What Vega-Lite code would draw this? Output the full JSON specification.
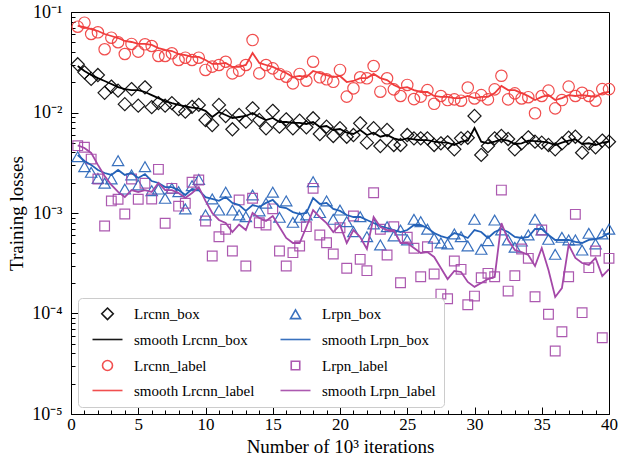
{
  "$schema": "https://vega.github.io/schema/vega-lite/v6.json",
  "width": 538,
  "height": 402,
  "autosize": {"type": "none"},
  "padding": {"left": 71, "top": 12, "right": 10, "bottom": 49},
  "background": "white",
  "config": {
    "view": {"stroke": "black", "strokeWidth": 1},
    "font": "Liberation Serif",
    "axis": {"grid": false, "domainColor": "black", "tickColor": "black", "labelColor": "black", "titleColor": "black", "labelFont": "Liberation Serif", "titleFont": "Liberation Serif", "titleFontWeight": "normal", "labelOverlap": false, "labelFlush": false, "labelBound": false}
  },
  "data": {"values": [
    {"x":0.5,"rb":0.0302,"srb":0.0290,"rl":0.0714,"srl":0.0726,"pb":0.00363,"spb":0.00378,"pl":0.00468,"spl":0.00470},
    {"x":1.0,"rb":0.0251,"srb":0.0259,"rl":0.0783,"srl":0.0709,"pb":0.00289,"spb":0.00329,"pl":0.00451,"spl":0.00444},
    {"x":1.5,"rb":0.0216,"srb":0.0236,"rl":0.0604,"srl":0.0677,"pb":0.00254,"spb":0.00301,"pl":0.00344,"spl":0.00396},
    {"x":2.0,"rb":0.0236,"srb":0.0220,"rl":0.0628,"srl":0.0647,"pb":0.00221,"spb":0.00268,"pl":0.00218,"spl":0.00301},
    {"x":2.5,"rb":0.0157,"srb":0.0206,"rl":0.0426,"srl":0.0604,"pb":0.00198,"spb":0.00250,"pl":0.000742,"spl":0.00233},
    {"x":3.0,"rb":0.0181,"srb":0.0192,"rl":0.0555,"srl":0.0577,"pb":0.00218,"spb":0.00239,"pl":0.00132,"spl":0.00190},
    {"x":3.5,"rb":0.0165,"srb":0.0179,"rl":0.0500,"srl":0.0551,"pb":0.00331,"spb":0.00268,"pl":0.00137,"spl":0.00162},
    {"x":4.0,"rb":0.0121,"srb":0.0171,"rl":0.0382,"srl":0.0515,"pb":0.00173,"spb":0.00239,"pl":0.000977,"spl":0.00144},
    {"x":4.5,"rb":0.0171,"srb":0.0167,"rl":0.0481,"srl":0.0503,"pb":0.00239,"spb":0.00250,"pl":0.00218,"spl":0.00169},
    {"x":5.0,"rb":0.0117,"srb":0.0167,"rl":0.0403,"srl":0.0481,"pb":0.00190,"spb":0.00223,"pl":0.00137,"spl":0.00162},
    {"x":5.5,"rb":0.0178,"srb":0.0160,"rl":0.0477,"srl":0.0481,"pb":0.00289,"spb":0.00244,"pl":0.00198,"spl":0.00169},
    {"x":6.0,"rb":0.0113,"srb":0.0149,"rl":0.0459,"srl":0.0470,"pb":0.00167,"spb":0.00208,"pl":0.00138,"spl":0.00162},
    {"x":6.5,"rb":0.0124,"srb":0.0139,"rl":0.0365,"srl":0.0438,"pb":0.00173,"spb":0.00199,"pl":0.00272,"spl":0.00199},
    {"x":7.0,"rb":0.0117,"srb":0.0130,"rl":0.0365,"srl":0.0419,"pb":0.00140,"spb":0.00181,"pl":0.000790,"spl":0.00169},
    {"x":7.5,"rb":0.0124,"srb":0.0124,"rl":0.0388,"srl":0.0409,"pb":0.00176,"spb":0.00181,"pl":0.00176,"spl":0.00169},
    {"x":8.0,"rb":0.0108,"srb":0.0119,"rl":0.0333,"srl":0.0382,"pb":0.00163,"spb":0.00169,"pl":0.00117,"spl":0.00158},
    {"x":8.5,"rb":0.0102,"srb":0.0115,"rl":0.0351,"srl":0.0373,"pb":0.00110,"spb":0.00151,"pl":0.00125,"spl":0.00141},
    {"x":9.0,"rb":0.0114,"srb":0.0112,"rl":0.0333,"srl":0.0357,"pb":0.00187,"spb":0.00173,"pl":0.00202,"spl":0.00158},
    {"x":9.5,"rb":0.0119,"srb":0.0110,"rl":0.0351,"srl":0.0357,"pb":0.00216,"spb":0.00169,"pl":0.00213,"spl":0.00181},
    {"x":10.0,"rb":0.00842,"srb":0.0104,"rl":0.0265,"srl":0.0333,"pb":0.000955,"spb":0.00144,"pl":0.000832,"spl":0.00132},
    {"x":10.5,"rb":0.00751,"srb":0.00902,"rl":0.0286,"srl":0.0304,"pb":0.00138,"spb":0.00138,"pl":0.000373,"spl":0.00100},
    {"x":11.0,"rb":0.0119,"srb":0.0101,"rl":0.0297,"srl":0.0304,"pb":0.00107,"spb":0.00132,"pl":0.000581,"spl":0.000852},
    {"x":11.5,"rb":0.00923,"srb":0.00945,"rl":0.0320,"srl":0.0311,"pb":0.00161,"spb":0.00144,"pl":0.000689,"spl":0.000795},
    {"x":12.0,"rb":0.00681,"srb":0.00882,"rl":0.0245,"srl":0.0284,"pb":0.00107,"spb":0.00126,"pl":0.000419,"spl":0.000647},
    {"x":12.5,"rb":0.00945,"srb":0.00902,"rl":0.0261,"srl":0.0284,"pb":0.000955,"spb":0.00120,"pl":0.00135,"spl":0.000769},
    {"x":13.0,"rb":0.00810,"srb":0.00923,"rl":0.0297,"srl":0.0297,"pb":0.000918,"spb":0.00105,"pl":0.000297,"spl":0.000677},
    {"x":13.5,"rb":0.0110,"srb":0.00989,"rl":0.0526,"srl":0.0391,"pb":0.00151,"spb":0.00120,"pl":0.00140,"spl":0.00100},
    {"x":14.0,"rb":0.00842,"srb":0.00902,"rl":0.0245,"srl":0.0311,"pb":0.00105,"spb":0.00115,"pl":0.000800,"spl":0.000892},
    {"x":14.5,"rb":0.00697,"srb":0.00842,"rl":0.0297,"srl":0.0297,"pb":0.00125,"spb":0.00126,"pl":0.000760,"spl":0.000832},
    {"x":15.0,"rb":0.0104,"srb":0.00882,"rl":0.0275,"srl":0.0284,"pb":0.00161,"spb":0.00135,"pl":0.00110,"spl":0.000933},
    {"x":15.5,"rb":0.00722,"srb":0.00804,"rl":0.0242,"srl":0.0265,"pb":0.000906,"spb":0.00115,"pl":0.000419,"spl":0.000726},
    {"x":16.0,"rb":0.00856,"srb":0.00804,"rl":0.0227,"srl":0.0247,"pb":0.00132,"spb":0.00112,"pl":0.000297,"spl":0.000564},
    {"x":16.5,"rb":0.00697,"srb":0.00787,"rl":0.0195,"srl":0.0225,"pb":0.000808,"spb":0.00102,"pl":0.000403,"spl":0.000503},
    {"x":17.0,"rb":0.00828,"srb":0.00787,"rl":0.0242,"srl":0.0231,"pb":0.000906,"spb":0.000977,"pl":0.000470,"spl":0.000503},
    {"x":17.5,"rb":0.00713,"srb":0.00769,"rl":0.0207,"srl":0.0225,"pb":0.000955,"spb":0.00100,"pl":0.000731,"spl":0.000726},
    {"x":18.0,"rb":0.00876,"srb":0.00804,"rl":0.0320,"srl":0.0259,"pb":0.00205,"spb":0.00141,"pl":0.00176,"spl":0.00107},
    {"x":18.5,"rb":0.00611,"srb":0.00718,"rl":0.0224,"srl":0.0247,"pb":0.00101,"spb":0.00123,"pl":0.000604,"spl":0.000912},
    {"x":19.0,"rb":0.00722,"srb":0.00734,"rl":0.0214,"srl":0.0236,"pb":0.00132,"spb":0.00126,"pl":0.000506,"spl":0.000795},
    {"x":19.5,"rb":0.00584,"srb":0.00670,"rl":0.0202,"srl":0.0225,"pb":0.000865,"spb":0.00110,"pl":0.000391,"spl":0.000647},
    {"x":20.0,"rb":0.00697,"srb":0.00685,"rl":0.0265,"srl":0.0231,"pb":0.00107,"spb":0.00105,"pl":0.000714,"spl":0.000760},
    {"x":20.5,"rb":0.00574,"srb":0.00630,"rl":0.0144,"srl":0.0201,"pb":0.000819,"spb":0.000955,"pl":0.000282,"spl":0.000503},
    {"x":21.0,"rb":0.00597,"srb":0.00611,"rl":0.0174,"srl":0.0206,"pb":0.000652,"spb":0.000912,"pl":0.000933,"spl":0.000677},
    {"x":21.5,"rb":0.00781,"srb":0.00670,"rl":0.0224,"srl":0.0220,"pb":0.000918,"spb":0.000912,"pl":0.000346,"spl":0.000577},
    {"x":22.0,"rb":0.00501,"srb":0.00597,"rl":0.0219,"srl":0.0220,"pb":0.000581,"spb":0.000851,"pl":0.000267,"spl":0.000438},
    {"x":22.5,"rb":0.00697,"srb":0.00630,"rl":0.0290,"srl":0.0242,"pb":0.000778,"spb":0.000795,"pl":0.00159,"spl":0.000912},
    {"x":23.0,"rb":0.00464,"srb":0.00574,"rl":0.0161,"srl":0.0220,"pb":0.000481,"spb":0.000742,"pl":0.000689,"spl":0.000726},
    {"x":23.5,"rb":0.00670,"srb":0.00597,"rl":0.0219,"srl":0.0210,"pb":0.000731,"spb":0.000709,"pl":0.000382,"spl":0.000677},
    {"x":24.0,"rb":0.00475,"srb":0.00553,"rl":0.0170,"srl":0.0188,"pb":0.000590,"spb":0.000677,"pl":0.000731,"spl":0.000677},
    {"x":24.5,"rb":0.00475,"srb":0.00532,"rl":0.0146,"srl":0.0175,"pb":0.000677,"spb":0.000647,"pl":0.000202,"spl":0.000503},
    {"x":25.0,"rb":0.00597,"srb":0.00553,"rl":0.0188,"srl":0.0179,"pb":0.000539,"spb":0.000677,"pl":0.000573,"spl":0.000503},
    {"x":25.5,"rb":0.00553,"srb":0.00541,"rl":0.0136,"srl":0.0167,"pb":0.000865,"spb":0.000760,"pl":0.000446,"spl":0.000449},
    {"x":26.0,"rb":0.00553,"srb":0.00532,"rl":0.0144,"srl":0.0160,"pb":0.000819,"spb":0.000760,"pl":0.000232,"spl":0.000400},
    {"x":26.5,"rb":0.00553,"srb":0.00532,"rl":0.0167,"srl":0.0160,"pb":0.000689,"spb":0.000709,"pl":0.000462,"spl":0.000409},
    {"x":27.0,"rb":0.00475,"srb":0.00512,"rl":0.0122,"srl":0.0146,"pb":0.000560,"spb":0.000632,"pl":0.000247,"spl":0.000365},
    {"x":27.5,"rb":0.00494,"srb":0.00505,"rl":0.0146,"srl":0.0143,"pb":0.000503,"spb":0.000590,"pl":0.000156,"spl":0.000284},
    {"x":28.0,"rb":0.00505,"srb":0.00501,"rl":0.0133,"srl":0.0143,"pb":0.000492,"spb":0.000564,"pl":0.000140,"spl":0.000220},
    {"x":28.5,"rb":0.00430,"srb":0.00475,"rl":0.0135,"srl":0.0139,"pb":0.000618,"spb":0.000632,"pl":0.000333,"spl":0.000265},
    {"x":29.0,"rb":0.00553,"srb":0.00512,"rl":0.0131,"srl":0.0139,"pb":0.000581,"spb":0.000604,"pl":0.000275,"spl":0.000259},
    {"x":29.5,"rb":0.00561,"srb":0.00524,"rl":0.0177,"srl":0.0146,"pb":0.000470,"spb":0.000564,"pl":0.000122,"spl":0.000206},
    {"x":30.0,"rb":0.00923,"srb":0.00701,"rl":0.0138,"srl":0.0139,"pb":0.000865,"spb":0.000677,"pl":0.000149,"spl":0.000184},
    {"x":30.5,"rb":0.00378,"srb":0.00512,"rl":0.0149,"srl":0.0143,"pb":0.000435,"spb":0.000647,"pl":0.000227,"spl":0.000201},
    {"x":31.0,"rb":0.00464,"srb":0.00494,"rl":0.0135,"srl":0.0143,"pb":0.000530,"spb":0.000564,"pl":0.000251,"spl":0.000220},
    {"x":31.5,"rb":0.00553,"srb":0.00512,"rl":0.0170,"srl":0.0156,"pb":0.000851,"spb":0.000647,"pl":0.000232,"spl":0.000231},
    {"x":32.0,"rb":0.00584,"srb":0.00541,"rl":0.0232,"srl":0.0184,"pb":0.000677,"spb":0.000693,"pl":0.00169,"spl":0.000795},
    {"x":32.5,"rb":0.00545,"srb":0.00524,"rl":0.0135,"srl":0.0167,"pb":0.000539,"spb":0.000647,"pl":0.000167,"spl":0.000539},
    {"x":33.0,"rb":0.00430,"srb":0.00486,"rl":0.0155,"srl":0.0167,"pb":0.000456,"spb":0.000577,"pl":0.000238,"spl":0.000428},
    {"x":33.5,"rb":0.00494,"srb":0.00494,"rl":0.0138,"srl":0.0156,"pb":0.000526,"spb":0.000564,"pl":0.000438,"spl":0.000409},
    {"x":34.0,"rb":0.00566,"srb":0.00524,"rl":0.0142,"srl":0.0146,"pb":0.000604,"spb":0.000577,"pl":0.000354,"spl":0.000382},
    {"x":34.5,"rb":0.00512,"srb":0.00520,"rl":0.00982,"srl":0.0133,"pb":0.000865,"spb":0.000693,"pl":0.000147,"spl":0.000297},
    {"x":35.0,"rb":0.00501,"srb":0.00512,"rl":0.0146,"srl":0.0143,"pb":0.000677,"spb":0.000693,"pl":0.000677,"spl":0.000449},
    {"x":35.5,"rb":0.00475,"srb":0.00501,"rl":0.0165,"srl":0.0149,"pb":0.000547,"spb":0.000604,"pl":0.0000982,"spl":0.000271},
    {"x":36.0,"rb":0.00430,"srb":0.00475,"rl":0.0110,"srl":0.0133,"pb":0.000388,"spb":0.000539,"pl":0.0000424,"spl":0.000146},
    {"x":36.5,"rb":0.00492,"srb":0.00501,"rl":0.0133,"srl":0.0139,"pb":0.000573,"spb":0.000539,"pl":0.0000659,"spl":0.000179},
    {"x":37.0,"rb":0.00561,"srb":0.00524,"rl":0.0181,"srl":0.0149,"pb":0.000539,"spb":0.000539,"pl":0.000232,"spl":0.000481},
    {"x":37.5,"rb":0.00574,"srb":0.00541,"rl":0.0146,"srl":0.0146,"pb":0.000539,"spb":0.000515,"pl":0.000970,"spl":0.000357},
    {"x":38.0,"rb":0.00398,"srb":0.00486,"rl":0.0157,"srl":0.0149,"pb":0.000428,"spb":0.000503,"pl":0.000102,"spl":0.000318},
    {"x":38.5,"rb":0.00492,"srb":0.00494,"rl":0.0146,"srl":0.0146,"pb":0.000628,"spb":0.000539,"pl":0.000286,"spl":0.000304},
    {"x":39.0,"rb":0.00451,"srb":0.00475,"rl":0.0131,"srl":0.0143,"pb":0.000492,"spb":0.000551,"pl":0.000419,"spl":0.000357},
    {"x":39.5,"rb":0.00526,"srb":0.00501,"rl":0.0171,"srl":0.0156,"pb":0.000618,"spb":0.000577,"pl":0.0000574,"spl":0.000236},
    {"x":40.0,"rb":0.00512,"srb":0.00512,"rl":0.0171,"srl":0.0160,"pb":0.000689,"spb":0.000632,"pl":0.000354,"spl":0.000277}
  ]},
  "transform": [
    {"fold": ["rb", "srb", "rl", "srl", "pb", "spb", "pl", "spl"], "as": ["s", "v"]}
  ],
  "encoding": {
    "x": {
      "field": "x", "type": "quantitative",
      "scale": {"domain": [0, 40], "nice": false, "zero": false},
      "axis": {
        "title": "Number of 10³ iterations",
        "titleFontSize": 19, "titlePadding": 2,
        "labelFontSize": 17,
        "values": [0,1,2,3,4,5,6,7,8,9,10,11,12,13,14,15,16,17,18,19,20,21,22,23,24,25,26,27,28,29,30,31,32,33,34,35,36,37,38,39,40],
        "labelExpr": "datum.value % 5 == 0 ? datum.label : ''",
        "tickSize": {"condition": {"test": "datum.value % 5 == 0", "value": -7}, "value": -4},
        "labelPadding": 9
      }
    },
    "y": {
      "field": "v", "type": "quantitative",
      "scale": {"type": "log", "domain": [0.00001, 0.1], "nice": false},
      "axis": {
        "title": "Training losses",
        "titleFontSize": 19, "titlePadding": 5,
        "labelFontSize": 18,
        "values": [0.00001,0.00002,0.00003,0.00004,0.00005,0.00006,0.00007,0.00008,0.00009,0.0001,0.0002,0.0003,0.0004,0.0005,0.0006,0.0007,0.0008,0.0009,0.001,0.002,0.003,0.004,0.005,0.006,0.007,0.008,0.009,0.01,0.02,0.03,0.04,0.05,0.06,0.07,0.08,0.09,0.1],
        "labelExpr": "abs(log(datum.value)/LN10 - round(log(datum.value)/LN10)) < 0.001 ? '10' + ['⁻⁵','⁻⁴','⁻³','⁻²','⁻¹'][round(log(datum.value)/LN10)+5] : ''",
        "tickSize": {"condition": {"test": "abs(log(datum.value)/LN10 - round(log(datum.value)/LN10)) < 0.001", "value": -7}, "value": -4},
        "labelPadding": 16
      }
    },
    "color": {"field": "s", "type": "nominal",
      "scale": {"domain": ["rb", "srb", "rl", "srl", "pb", "spb", "pl", "spl"], "range": ["#000000", "#000000", "#f03c3c", "#f03c3c", "#2462b8", "#2462b8", "#a448a8", "#a448a8"]},
      "legend": {"title": null, "orient": "bottom-left", "offset": 7, "columns": 2, "fillColor": "white", "strokeColor": "#cccccc", "cornerRadius": 4, "padding": 8, "labelFont": "Liberation Serif", "labelFontSize": 15, "labelColor": "black", "rowPadding": 9, "columnPadding": 19, "symbolOffset": 14, "labelOffset": 19, "symbolStrokeWidth": 1.6,
        "labelExpr": "{'rb':'Lrcnn_box','srb':'smooth Lrcnn_box','rl':'Lrcnn_label','srl':'smooth Lrcnn_label','pb':'Lrpn_box','spb':'smooth Lrpn_box','pl':'Lrpn_label','spl':'smooth Lrpn_label'}[datum.label]"}}
  },
  "layer": [
    {
      "transform": [{"filter": "indexof(['rb','pb','rl','pl'], datum.s) >= 0"}],
      "mark": {"type": "point", "filled": false, "opacity": 0.9, "size": 130, "strokeWidth": 1.2},
      "encoding": {
        "shape": {"field": "s", "type": "nominal",
          "scale": {"domain": ["rb", "srb", "rl", "srl", "pb", "spb", "pl", "spl"], "range": ["M0,-1.15L1.15,0L0,1.15L-1.15,0Z", "M-3,0H3", "circle", "M-3,0H3", "triangle-up", "M-3,0H3", "M-0.85,-0.85H0.85V0.85H-0.85Z", "M-3,0H3"]},
          "legend": {"title": null}}
      }
    },
    {
      "transform": [{"filter": "indexof(['srb','spb','srl','spl'], datum.s) >= 0"}],
      "mark": {"type": "line", "strokeWidth": 1.8},
      "encoding": {}
    }
  ]
}
